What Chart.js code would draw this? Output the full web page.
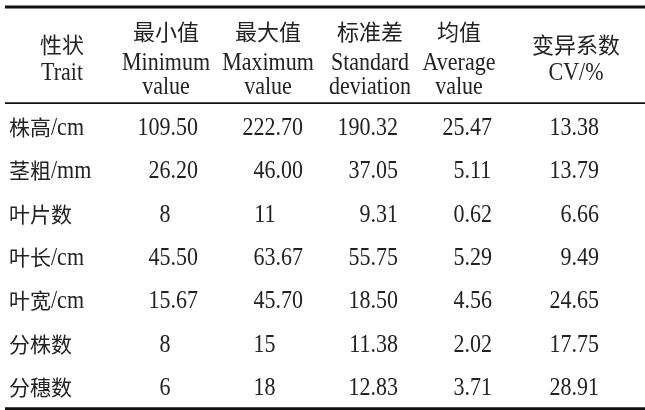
<!DOCTYPE html>
<html>
<head>
<meta charset="utf-8">
<script src="https://cdn.jsdelivr.net/npm/chart.js@4/dist/chart.umd.min.js"></script>
<style>
  html, body { margin: 0; padding: 0; background: #fff; }
  canvas { display: block; }
</style>
</head>
<body>
<canvas id="tbl" width="645" height="410"></canvas>
<script>
// table data
const traits = ['株高/cm', '茎粗/mm', '叶片数', '叶长/cm', '叶宽/cm', '分株数', '分穗数'];
const minValues = ['109.50', '26.20', '8', '45.50', '15.67', '8', '6'];
const maxValues = ['222.70', '46.00', '11', '63.67', '45.70', '15', '18'];
const stdValues = ['190.32', '37.05', '9.31', '55.75', '18.50', '11.38', '12.83'];
const avgValues = ['25.47', '5.11', '0.62', '5.29', '4.56', '2.02', '3.71'];
const cvValues = ['13.38', '13.79', '6.66', '9.49', '24.65', '17.75', '28.91'];

const headZh = ['性状', '最小值', '最大值', '标准差', '均值', '变异系数'];
const headEn = [['Trait'], ['Minimum', 'value'], ['Maximum', 'value'],
                ['Standard', 'deviation'], ['Average', 'value'], ['CV/%']];

// layout (scale units)
const headPos = [0.62, 1.66, 2.68, 3.70, 4.59, 5.76];
const numPos = [1.705, 2.755, 3.705, 4.645, 5.715];
const traitLeft = 0.09;
const headRow = -0.58;
const rules = [{ y: -1.77, w: 3 }, { y: 0.45, w: 1.6 }, { y: 7.5, w: 3 }];

const TXT = '#222';
const LATIN = '25px "Liberation Serif", "Times New Roman", serif';
const LATIN_SX = 0.88;   // the original serif face is narrow and tall
const CJK = '21px "Noto Sans CJK SC", sans-serif';
const CJK_HEAD = '22px "Noto Sans CJK SC", sans-serif';
const isCjk = ch => /[\u3400-\u9fff]/.test(ch);

// draw text that mixes CJK and latin runs, on an alphabetic baseline
function drawMixed(ctx, text, x, base, align, cjkFont) {
  const runs = [];
  for (const ch of text) {
    const cj = isCjk(ch);
    if (runs.length && runs[runs.length - 1].cj === cj) runs[runs.length - 1].t += ch;
    else runs.push({ cj, t: ch });
  }
  let total = 0;
  runs.forEach(r => {
    ctx.font = r.cj ? (cjkFont || CJK) : LATIN;
    r.w = ctx.measureText(r.t).width * (r.cj ? 1 : LATIN_SX);
    total += r.w;
  });
  let cx = align === 'center' ? x - total / 2 : align === 'right' ? x - total : x;
  ctx.textAlign = 'left';
  ctx.textBaseline = 'alphabetic';
  runs.forEach(r => {
    ctx.font = r.cj ? (cjkFont || CJK) : LATIN;
    ctx.save();
    ctx.translate(cx, base);
    if (!r.cj) ctx.scale(LATIN_SX, 1);
    ctx.fillText(r.t, 0, 0);
    ctx.restore();
    cx += r.w;
  });
}

const tablePlugin = {
  id: 'tableText',
  afterDatasetsDraw(chart) {
    const ctx = chart.ctx;
    const sx = chart.scales.x, sy = chart.scales.y;
    ctx.save();
    ctx.fillStyle = TXT;

    // rules
    ctx.strokeStyle = '#111';
    rules.forEach(r => {
      const y = sy.getPixelForValue(r.y);
      ctx.lineWidth = r.w;
      ctx.beginPath();
      ctx.moveTo(sx.getPixelForValue(0.05), y);
      ctx.lineTo(sx.right, y);
      ctx.stroke();
    });

    // header
    const hy = sy.getPixelForValue(headRow);
    headZh.forEach((zh, c) => {
      const x = sx.getPixelForValue(headPos[c]);
      const en = headEn[c];
      if (en.length === 2) {
        drawMixed(ctx, zh, x, hy - 19, 'center', CJK_HEAD);
        drawMixed(ctx, en[0], x, hy + 11.5, 'center');
        drawMixed(ctx, en[1], x, hy + 35.5, 'center');
      } else {
        drawMixed(ctx, zh, x, hy - 6, 'center', CJK_HEAD);
        drawMixed(ctx, en[0], x, hy + 21.5, 'center');
      }
    });

    // cells
    chart.data.datasets.forEach((ds, d) => {
      const meta = chart.getDatasetMeta(d);
      meta.data.forEach((pt, i) => {
        const s = ds.cells[i];
        const base = pt.y + 8;
        if (ds.align === 'left') { drawMixed(ctx, s, pt.x, base, 'left'); return; }
        const [ip, fp] = s.split('.');
        drawMixed(ctx, ip, pt.x, base, 'right');
        if (fp !== undefined) drawMixed(ctx, '.' + fp, pt.x, base, 'left');
      });
    });
    ctx.restore();
  }
};

const rowPoints = (x) => traits.map((_, i) => ({ x, y: i + 1 }));
const columns = [minValues, maxValues, stdValues, avgValues, cvValues];

const datasets = [{ cells: traits, align: 'left', data: rowPoints(traitLeft) }]
  .concat(columns.map((vals, c) => ({ cells: vals, align: 'decimal', data: rowPoints(numPos[c]) })));
datasets.forEach(ds => { ds.pointRadius = 0; ds.pointHoverRadius = 0; });

new Chart(document.getElementById('tbl'), {
  type: 'scatter',
  data: { datasets },
  options: {
    responsive: false,
    animation: false,
    devicePixelRatio: 1,
    layout: { padding: 0 },
    plugins: { legend: { display: false }, tooltip: { enabled: false } },
    scales: {
      x: { type: 'linear', min: 0, max: 6.45, display: false },
      y: { type: 'linear', min: -1.93, max: 7.53, reverse: true, display: false }
    }
  },
  plugins: [tablePlugin]
});
</script>
</body>
</html>
